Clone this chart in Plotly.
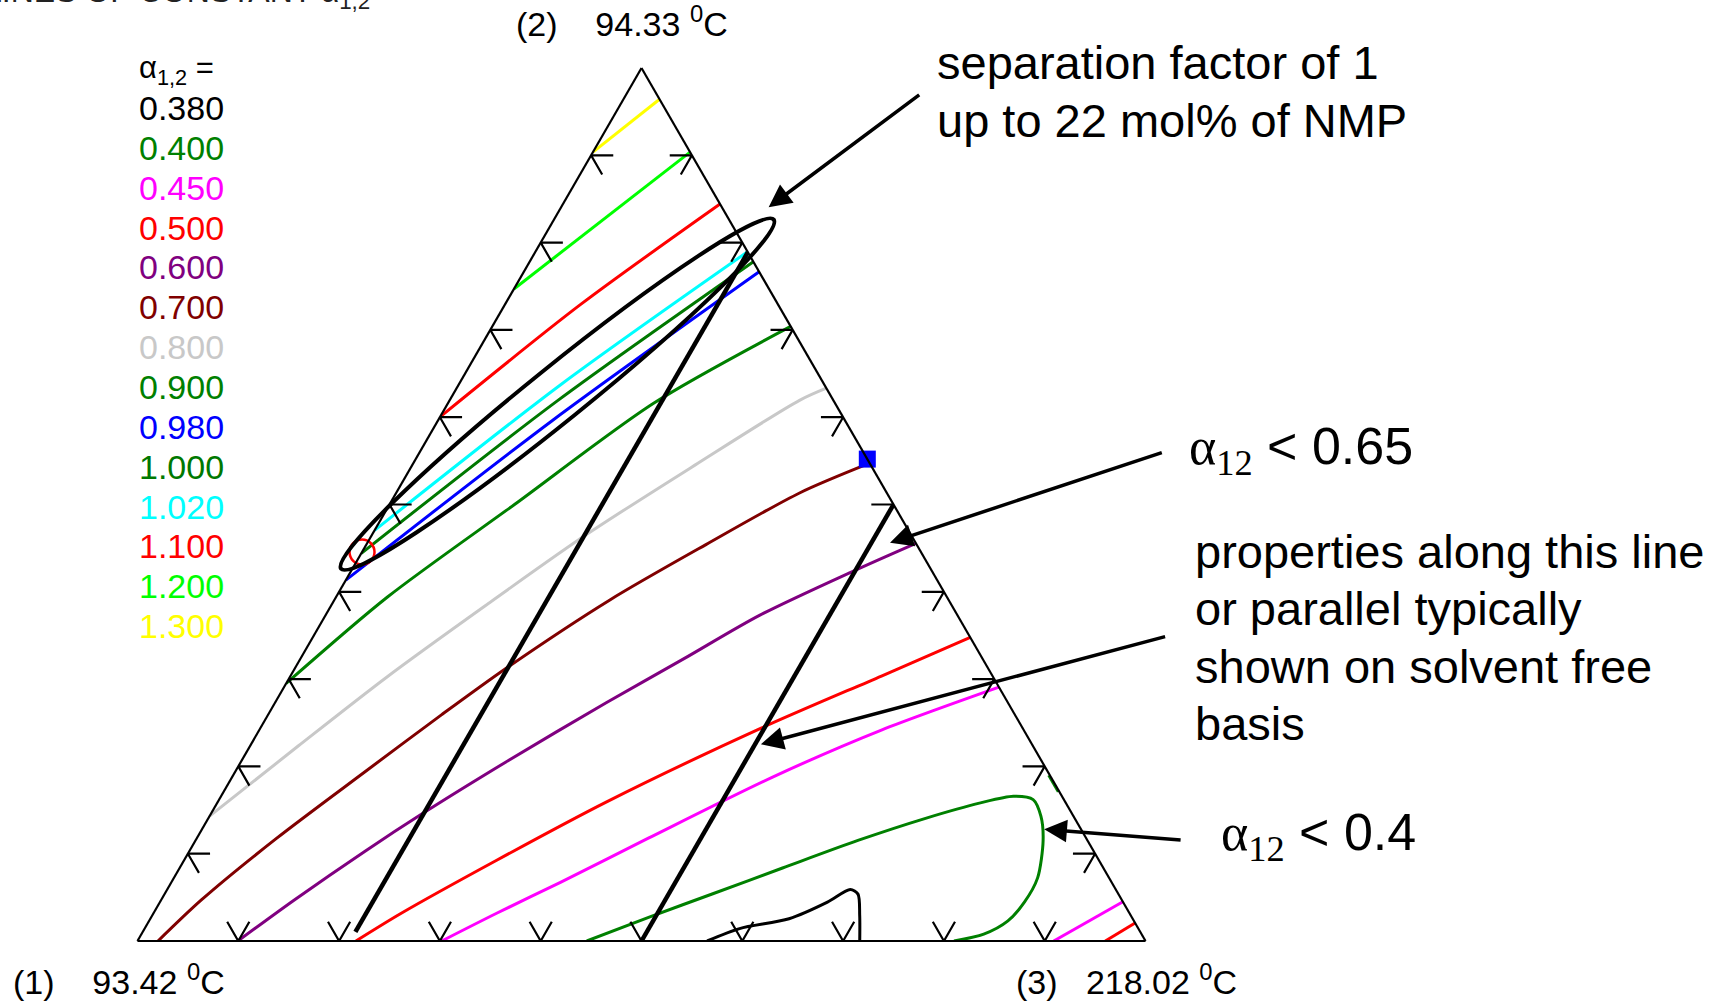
import math
import plotly.graph_objects as go

W, H = 1729, 1005
SANS = "Liberation Sans, Arial, sans-serif"
SERIF = "Liberation Serif, Times New Roman, serif"

# ---------------- data: iso-separation-factor curves ----------------
# a = mole fraction of component (2) (top vertex), c = mole fraction of (3) NMP (right vertex)
levels = ["0.380", "0.400", "0.450", "0.500", "0.600", "0.700", "0.800",
          "0.900", "0.980", "1.000", "1.020", "1.100", "1.200", "1.300"]
level_colors = ["#000000", "#008000", "#ff00ff", "#ff0000", "#800080", "#800000", "#c8c8c8",
                "#008000", "#0000ff", "#007800", "#00ffff", "#ff0000", "#00ff00", "#ffff00"]

a038 = [0.0, 0.0142, 0.0255, 0.0445, 0.059, 0.0537, 0.0293, 0.0]
c038 = [0.5651, 0.5902, 0.6336, 0.6622, 0.6776, 0.6879, 0.7018, 0.7165]
a040 = [0.0, 0.028, 0.0541, 0.0836, 0.1152, 0.1405, 0.1582, 0.1658, 0.162, 0.143,
        0.1152, 0.0723, 0.0445, 0.023, 0.0078, 0.0]
c040 = [0.4457, 0.495, 0.5437, 0.5981, 0.6571, 0.7115, 0.7571, 0.786, 0.8075, 0.8247,
        0.8408, 0.8568, 0.8576, 0.852, 0.8356, 0.81]
a040b = [0.19, 0.171]
c040b = [0.809, 0.828]
a045 = [0.0, 0.0318, 0.0672, 0.1178, 0.1872, 0.2416, 0.2908]
c045 = [0.3018, 0.3404, 0.386, 0.4479, 0.5354, 0.6172, 0.7092]
a045b = [0.0, 0.0449]
c045b = [0.9089, 0.9551]
a050 = [0.0, 0.0315, 0.0925, 0.1594, 0.2441, 0.3035, 0.3477]
c050 = [0.2167, 0.2455, 0.3101, 0.3857, 0.4972, 0.5863, 0.6523]
a050b = [0.0, 0.0207]
c050b = [0.9601, 0.9793]
a060 = [0.0, 0.047, 0.1026, 0.1468, 0.2062, 0.2732, 0.3231, 0.373, 0.4235, 0.4555]
c060 = [0.0996, 0.1321, 0.1741, 0.2105, 0.2641, 0.3288, 0.3802, 0.4305, 0.498, 0.5445]
a070 = [0.0, 0.047, 0.1178, 0.1936, 0.2593, 0.3136, 0.3907, 0.4538, 0.5132, 0.5473]
c070 = [0.0204, 0.0399, 0.0793, 0.1286, 0.1722, 0.2104, 0.2733, 0.3366, 0.4002, 0.4527]
a080 = [0.143, 0.2239, 0.3022, 0.3843, 0.4658, 0.5448, 0.6193, 0.6332]
c080 = [0.0, 0.0481, 0.0961, 0.1532, 0.2128, 0.2802, 0.3471, 0.3668]
a090 = [0.295, 0.394, 0.5, 0.616, 0.704]
c090 = [0.0, 0.051, 0.124, 0.204, 0.296]
a098 = [0.4134, 0.5963, 0.7666]
c098 = [0.0, 0.1135, 0.2334]
a100 = [0.444, 0.6187, 0.7781]
c100 = [0.0, 0.1071, 0.2219]
a102 = [0.4703, 0.6375, 0.7895]
c102 = [0.0, 0.1014, 0.2105]
a110 = [0.6004, 0.7286, 0.8442]
c110 = [0.0, 0.0747, 0.1558]
a120 = [0.7469, 0.9036]
c120 = [0.0, 0.0964]
a130 = [0.9036, 0.9642]
c130 = [0.0, 0.0358]

curves = [  # (level index, a, c)
    (0, a038, c038), (1, a040, c040), (1, a040b, c040b), (2, a045, c045), (2, a045b, c045b),
    (3, a050, c050), (3, a050b, c050b), (4, a060, c060), (5, a070, c070), (6, a080, c080),
    (7, a090, c090), (8, a098, c098), (9, a100, c100), (10, a102, c102), (11, a110, c110),
    (12, a120, c120), (13, a130, c130),
]

# solvent-free-basis guide lines (constant NMP fraction)
guide1_a = [0.0104, 0.789]
guide1_c = [0.211, 0.211]
guide2_a = [0.0, 0.5]
guide2_c = [0.5, 0.5]

# azeotrope-like marker on the 2-3 edge, small loop on the 1-2 edge
square_a, square_c = [0.552], [0.448]
circle_a, circle_c = [0.4455], [0.0]

tick_vals = [0.1, 0.2, 0.3, 0.4, 0.5, 0.6, 0.7, 0.8, 0.9]
TL = 0.022

fig = go.Figure()


def b_of(a, c):
    return [max(0.0, round(1 - ai - ci, 6)) for ai, ci in zip(a, c)]


for idx, a, c in curves:
    fig.add_trace(go.Scatterternary(a=a, b=b_of(a, c), c=c, mode="lines",
                                    line=dict(color=level_colors[idx], width=3,
                                              shape="spline", smoothing=0.8),
                                    hoverinfo="skip"))

for a, c in [(guide1_a, guide1_c), (guide2_a, guide2_c)]:
    fig.add_trace(go.Scatterternary(a=a, b=b_of(a, c), c=c, mode="lines",
                                    line=dict(color="black", width=4.5), hoverinfo="skip"))

# arrow-like ticks on the three edges
ta, tb, tc = [], [], []
for v in tick_vals:
    # left edge (c = 0)
    ta += [v - TL, v, v, None]; tb += [1 - v, 1 - v, 1 - v - TL, None]; tc += [TL, 0, TL, None]
    # right edge (b = 0)
    ta += [v - TL, v, v, None]; tb += [TL, 0, TL, None]; tc += [1 - v, 1 - v, 1 - v - TL, None]
    # bottom edge (a = 0)
    ta += [TL, 0, TL, None]; tb += [1 - v, 1 - v, 1 - v - TL, None]; tc += [v - TL, v, v, None]
fig.add_trace(go.Scatterternary(a=ta, b=tb, c=tc, mode="lines", connectgaps=False,
                                line=dict(color="black", width=2.2), hoverinfo="skip"))

fig.add_trace(go.Scatterternary(a=square_a, b=b_of(square_a, square_c), c=square_c, mode="markers",
                                marker=dict(symbol="square", size=17, color="#0000ff"),
                                cliponaxis=False, hoverinfo="skip"))
fig.add_trace(go.Scatterternary(a=circle_a, b=b_of(circle_a, circle_c), c=circle_c, mode="markers",
                                marker=dict(symbol="circle-open", size=25, color="#ff0000",
                                            line=dict(width=2.5, color="#ff0000")),
                                cliponaxis=False, hoverinfo="skip"))

axis_style = dict(showgrid=False, showticklabels=False, ticks="", showline=True,
                  linecolor="black", linewidth=2.2, title=dict(text=""))
fig.update_layout(
    width=W, height=H, margin=dict(l=0, r=0, t=0, b=0),
    paper_bgcolor="white", showlegend=False,
    ternary=dict(domain=dict(x=[136 / W, 1147 / W], y=[1 - 941 / H, 1 - 68 / H]),
                 sum=1, bgcolor="white",
                 aaxis=axis_style, baxis=axis_style, caxis=axis_style),
)


def px(x, y):
    return x / W, 1 - y / H


annotations = []


def text(x, y, s, size, color="black", xanchor="left", yanchor="middle", family=SANS):
    X, Y = px(x, y)
    annotations.append(dict(x=X, y=Y, xref="paper", yref="paper", text=s, showarrow=False,
                            xanchor=xanchor, yanchor=yanchor,
                            font=dict(size=size, color=color, family=family)))


def arrow(tail, tip):
    X, Y = px(*tip)
    annotations.append(dict(x=X, y=Y, xref="paper", yref="paper", text="", showarrow=True,
                            ax=tail[0] - tip[0], ay=tail[1] - tip[1], axref="pixel", ayref="pixel",
                            arrowhead=2, arrowsize=1.3, arrowwidth=3.5, arrowcolor="black"))


# partially visible title
text(372, 16, "LINES OF CONSTANT α<sub>1,2</sub>", 32, color="#222222", xanchor="right", yanchor="bottom")

# legend of levels
text(137, 70, "α<sub>1,2</sub> =", 31)
for i, (lv, col) in enumerate(zip(levels, level_colors)):
    text(137, 108 + 39.86 * i, lv, 34, color=col)

# vertex labels
NB = "\u00a0"
text(514, 22, "(2)" + NB * 4 + "94.33 <sup>0</sup>C", 34)
text(11, 979, "(1)" + NB * 4 + "93.42 <sup>0</sup>C", 34)
text(1014, 979, "(3)" + NB * 3 + "218.02 <sup>0</sup>C", 34)

# explanatory notes
text(935, 63, "separation factor of 1", 47)
text(935, 120, "up to 22 mol% of NMP", 47)
text(1187, 450, '<span style="font-family:Liberation Serif">α<sub>12</sub></span> &lt; 0.65', 52)
for j, line in enumerate(["properties along this line", "or parallel typically",
                          "shown on solvent free", "basis"]):
    text(1193, 551 + 57.6 * j, line, 47)
text(1219, 836, '<span style="font-family:Liberation Serif">α<sub>12</sub></span> &lt; 0.4', 52)

arrow((920.7, 93.7), (768.6, 207.3))
arrow((1163.3, 452.1), (890, 542.7))
arrow((1166.6, 636.2), (760.9, 744.3))
arrow((1182.1, 840.2), (1044.2, 829.2))

# hand-drawn ellipse around the unit-selectivity band
cx, cy, ra, rb, ang = 557.4, 394.2, 278, 27, math.radians(38.9)
ux, uy = math.cos(ang), -math.sin(ang)
vx, vy = math.sin(ang), math.cos(ang)
k = 0.5523


def P(s, t):
    return px(cx + ra * s * ux + rb * t * vx, cy + ra * s * uy + rb * t * vy)


pts = [(1, 0), (0, 1), (-1, 0), (0, -1), (1, 0)]
path = "M {:.5f},{:.5f}".format(*P(1, 0))
for (s0, t0), (s1, t1) in zip(pts[:-1], pts[1:]):
    c1 = P(s0 + k * s1, t0 + k * t1)
    c2 = P(s1 + k * s0, t1 + k * t0)
    e = P(s1, t1)
    path += " C {:.5f},{:.5f} {:.5f},{:.5f} {:.5f},{:.5f}".format(*c1, *c2, *e)
path += " Z"
fig.add_shape(type="path", path=path, xref="paper", yref="paper",
              line=dict(color="black", width=4))

fig.update_layout(annotations=annotations)
fig.write_html("out.html")
